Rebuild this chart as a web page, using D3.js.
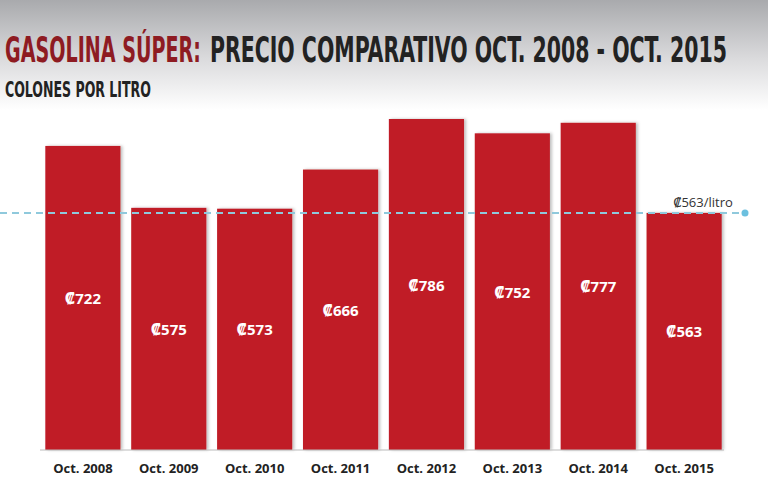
<!DOCTYPE html>
<html>
<head>
<meta charset="utf-8">
<script src="https://cdn.jsdelivr.net/npm/d3@7"></script>
<style>
  body { margin: 0; background: #fff; }
  svg { display: block; }
</style>
</head>
<body>
<div id="chart"></div>
<script>
const categories = ["Oct. 2008", "Oct. 2009", "Oct. 2010", "Oct. 2011", "Oct. 2012", "Oct. 2013", "Oct. 2014", "Oct. 2015"]
const prices = [722, 575, 573, 666, 786, 752, 777, 563]
const refPrice = 563
const refLabel = "₡563/litro"

const width = 768
const height = 483

const svg = d3.select("#chart").append("svg")
    .attr("width", width)
    .attr("height", height)

// fondo gris arriba
const defs = svg.append("defs")
const grad = defs.append("linearGradient").attr("id", "bg").attr("x1", 0).attr("y1", 0).attr("x2", 0).attr("y2", 1)
grad.append("stop").attr("offset", "0%").attr("stop-color", "#a9aaad")
grad.append("stop").attr("offset", "55%").attr("stop-color", "#dcdcde")
grad.append("stop").attr("offset", "100%").attr("stop-color", "#ffffff")
svg.append("rect").attr("width", width).attr("height", 110).attr("fill", "url(#bg)")

const shadow = defs.append("filter").attr("id", "sh").attr("x", "-10%").attr("y", "-10%").attr("width", "130%").attr("height", "130%")
shadow.append("feDropShadow").attr("dx", 2).attr("dy", 0).attr("stdDeviation", 1.5).attr("flood-color", "#000").attr("flood-opacity", 0.25)

// texto condensado: se mide y se escala en x hasta el ancho pedido
const titleFont = "'DejaVu Sans Condensed', 'DejaVu Sans'"
function squeezed(txt, x0, y0, size, w, color) {
    const t = svg.append("text")
        .attr("font-family", titleFont)
        .attr("font-weight", "bold")
        .attr("font-size", size)
        .attr("fill", color)
        .text(txt)
    const natural = t.node().getComputedTextLength()
    t.attr("transform", `translate(${x0},${y0}) scale(${w / natural},1)`)
    return t
}
squeezed("GASOLINA SÚPER:", 5, 62, 36, 196, "#8e1b22")
squeezed("PRECIO COMPARATIVO  OCT. 2008 - OCT. 2015", 210, 62, 36, 517, "#222")
squeezed("COLONES POR LITRO", 5, 97, 22, 146, "#222")

// escalas
const x = d3.scaleBand()
    .domain(categories)
    .range([35, 732])
    .paddingInner(0.125)
    .paddingOuter(0.12)

const y = d3.scaleLinear()
    .domain([0, 786])
    .range([450, 119])

// barras
svg.append("g").selectAll("rect")
    .data(prices)
    .enter()
    .append("rect")
    .attr("x", (d, i) => x(categories[i]))
    .attr("y", d => y(d))
    .attr("width", x.bandwidth())
    .attr("height", d => y(0) - y(d))
    .attr("fill", "#c01f28")
    .attr("filter", "url(#sh)")

// linea base
svg.append("line")
    .attr("x1", 40).attr("x2", 724)
    .attr("y1", y(0)).attr("y2", y(0))
    .attr("stroke", "#bbb").attr("stroke-width", 1)

// etiquetas de valor
svg.append("g").selectAll("text")
    .data(prices)
    .enter()
    .append("text")
    .attr("x", (d, i) => x(categories[i]) + x.bandwidth() / 2)
    .attr("y", d => (y(d) + y(0)) / 2 + 6)
    .attr("text-anchor", "middle")
    .attr("font-family", "'Open Sans', 'DejaVu Sans'")
    .attr("font-weight", "bold")
    .attr("font-size", 15)
    .attr("fill", "#fff")
    .text(d => "₡" + d)

// eje x
const xAxis = svg.append("g")
    .attr("transform", `translate(0,${y(0)})`)
    .call(d3.axisBottom(x).tickSize(0).tickPadding(14))
xAxis.select(".domain").remove()
xAxis.selectAll("text")
    .attr("font-family", "'Open Sans', 'DejaVu Sans'")
    .attr("font-weight", "bold")
    .attr("font-size", 13)
    .attr("fill", "#222")

// linea de referencia
svg.append("line")
    .attr("x1", 0).attr("x2", 745)
    .attr("y1", y(refPrice)).attr("y2", y(refPrice))
    .attr("stroke", "#8fc9dc")
    .attr("stroke-width", 2)
    .attr("stroke-dasharray", "7,5")
svg.append("circle")
    .attr("cx", 745).attr("cy", y(refPrice))
    .attr("r", 3.5)
    .attr("fill", "#6cc0df")
svg.append("text")
    .attr("x", 703).attr("y", y(refPrice) - 6)
    .attr("text-anchor", "middle")
    .attr("font-family", "'Open Sans', 'DejaVu Sans'")
    .attr("font-size", 13)
    .attr("fill", "#333")
    .text(refLabel)
</script>
</body>
</html>
